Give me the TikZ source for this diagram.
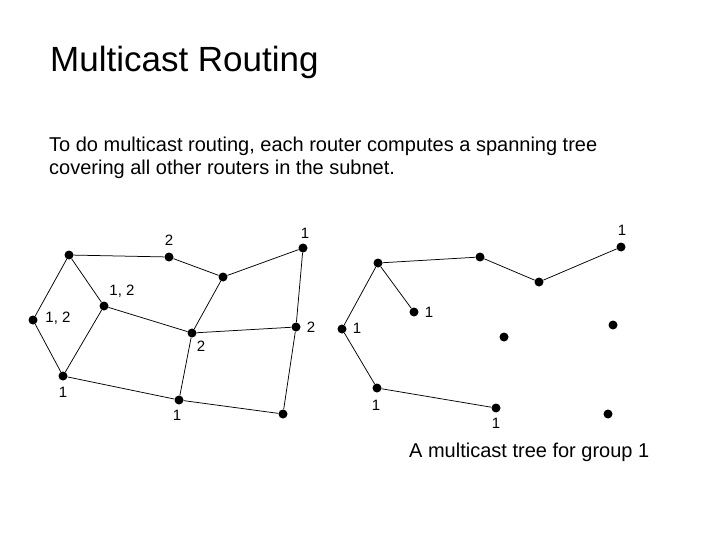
\documentclass[tikz,border=0pt]{standalone}
\usepackage{fontspec}
\setmainfont{Liberation Sans}
\begin{document}
\begin{tikzpicture}[x=1pt,y=-1pt,
  dot/.style={circle,fill=black,inner sep=0pt,minimum size=9pt},
  lbl/.style={inner sep=0pt,font=\fontsize{15}{17}\selectfont},
  edge/.style={line width=0.75pt},
  txt/.style={anchor=base west,inner sep=0pt}]
\useasboundingbox (0,0) rectangle (720,540);
% texts
\node[txt,font=\fontsize{35}{40}\selectfont] (title) at (50,72) {Multicast Routing};
\node[txt,font=\fontsize{20}{23}\selectfont] (body1) at (49,152) {To do multicast routing, each router computes a spanning tree};
\node[txt,font=\fontsize{20}{23}\selectfont] (body2) at (49,175) {covering all other routers in the subnet.};
\node[txt,font=\fontsize{20}{23}\selectfont] (cap) at (409,457) {A multicast tree for group 1};
% left graph
\node[dot] (A) at (69,255) {};
\node[dot] (B) at (169,257) {};
\node[dot] (C) at (223,277) {};
\node[dot] (D) at (303,248) {};
\node[dot] (E) at (104,306) {};
\node[dot] (F) at (33,320) {};
\node[dot] (G) at (192,333) {};
\node[dot] (H) at (296,327) {};
\node[dot] (I) at (63,376) {};
\node[dot] (J) at (179,400) {};
\node[dot] (K) at (283,414) {};
\draw[edge] (A) -- (B) (B) -- (C) (C) -- (D) (A) -- (E) (A) -- (F)
  (F) -- (I) (E) -- (I) (E) -- (G) (C) -- (G) (G) -- (H) (D) -- (H)
  (G) -- (J) (I) -- (J) (J) -- (K) (H) -- (K);
\node[lbl] (lB) at (169,240) {2};
\node[lbl] (lD) at (305,233) {1};
\node[lbl] (lE) at (122,291) {1, 2};
\node[lbl] (lF) at (58,318) {1, 2};
\node[lbl] (lG) at (201,346) {2};
\node[lbl] (lH) at (311,327) {2};
\node[lbl] (lI) at (63,392) {1};
\node[lbl] (lJ) at (177,415) {1};
% right graph
\node[dot] (P) at (378,263) {};
\node[dot] (Q) at (480,257) {};
\node[dot] (R) at (539,282) {};
\node[dot] (S) at (621,247) {};
\node[dot] (T) at (414,312) {};
\node[dot] (U) at (342,329) {};
\node[dot] (V) at (504,337) {};
\node[dot] (W) at (613,325) {};
\node[dot] (X) at (377,388) {};
\node[dot] (Y) at (496,408) {};
\node[dot] (Z) at (608,414) {};
\draw[edge] (U) -- (P) (P) -- (T) (P) -- (Q) (Q) -- (R) (R) -- (S)
  (U) -- (X) (X) -- (Y);
\node[lbl] (lS) at (622,230) {1};
\node[lbl] (lT) at (429,312) {1};
\node[lbl] (lU) at (357,328) {1};
\node[lbl] (lX) at (376,405) {1};
\node[lbl] (lY) at (496,423) {1};
\end{tikzpicture}
\end{document}
